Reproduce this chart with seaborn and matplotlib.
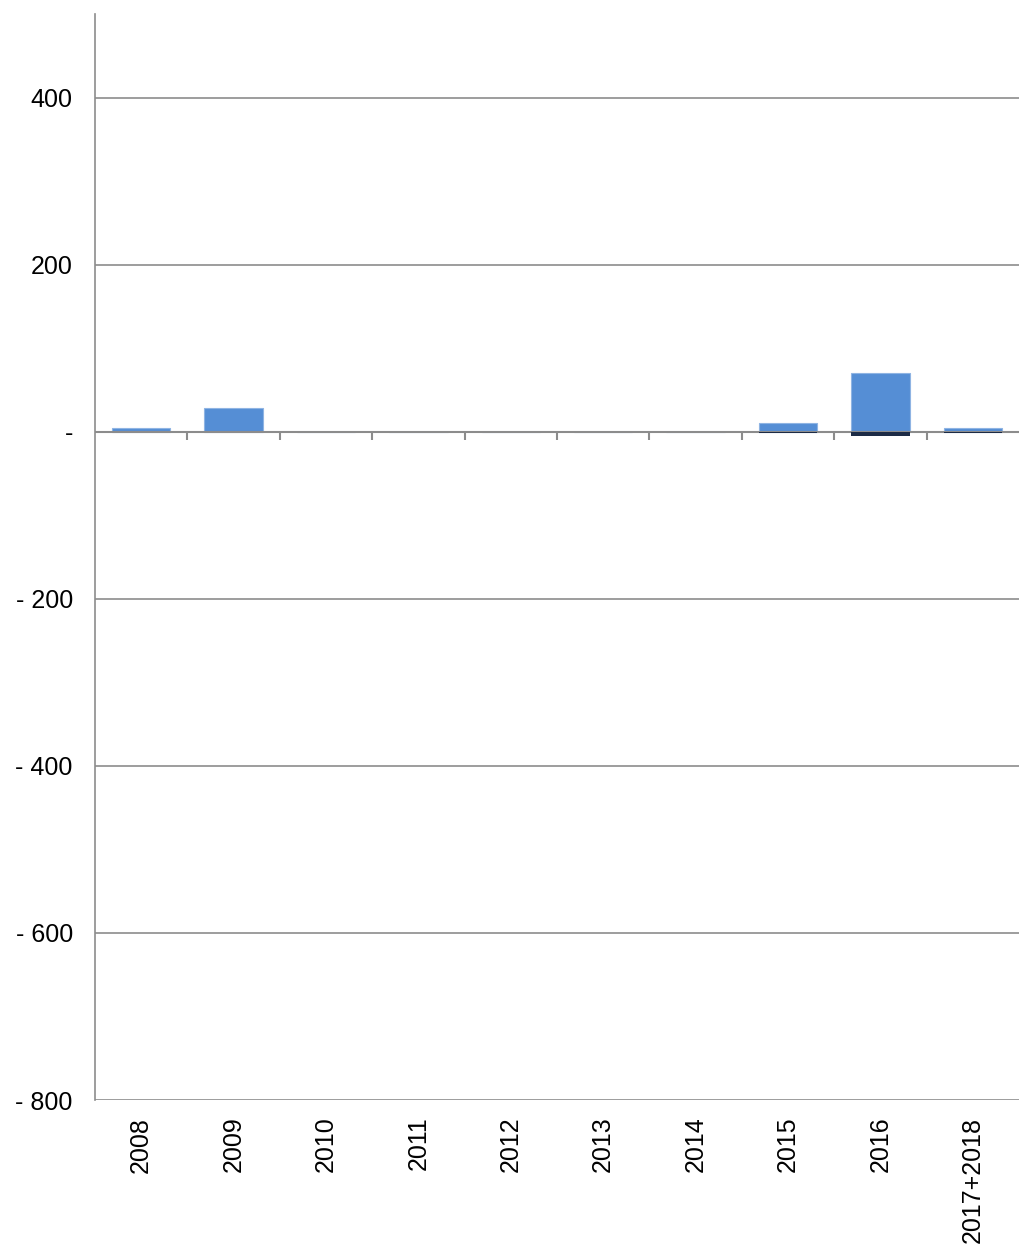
import matplotlib
matplotlib.use('Agg')
import matplotlib.pyplot as plt
import seaborn as sns
import numpy as np
import pandas as pd

years = ['2008', '2009', '2010', '2011', '2012', '2013', '2014', '2015', '2016', '2017+2018']
positive = [5, 28, 0, 0, 0, 0, 0, 10, 70, 5]
negative = [0, 0, 0, 0, 0, 0, 0, -1, -5, -1]
y_ticks = [-800, -600, -400, -200, 0, 200, 400]

GRID = '#8c8c8c'

sns.set_theme(style='white')
plt.rcParams['font.family'] = ['Liberation Sans', 'DejaVu Sans']
plt.rcParams['text.color'] = 'black'
plt.rcParams['xtick.color'] = 'black'
plt.rcParams['ytick.color'] = 'black'

df = pd.DataFrame({'year': years, 'pos': positive, 'neg': negative})

fig = plt.figure(figsize=(10.2, 12.52), dpi=100)
ax = fig.add_axes([95 / 1020, 1 - 1100 / 1252, 924 / 1020, 1086 / 1252])

sns.barplot(data=df, x='year', y='pos', color='#558ed5', width=0.63,
            edgecolor='#8fb4e3', linewidth=0.8, saturation=1, ax=ax, zorder=2)
sns.barplot(data=df, x='year', y='neg', color='#1c2b45', width=0.63,
            linewidth=0, saturation=1, ax=ax, zorder=4)

ymin, ymax = -800, 500
ax.set_ylim(ymin, ymax)
ax.set_xlim(-0.5, len(years) - 0.5)
ax.set_yticks(y_ticks)
ax.set_yticklabels(['-' if v == 0 else (f'- {-v}' if v < 0 else f'{v}') for v in y_ticks])
for v in y_ticks:
    if v != 0:
        ax.axhline(v, color=GRID, lw=1.2, zorder=0)

# category axis line at zero with ticks between categories
ax.axhline(0, color=GRID, lw=1.5, zorder=3)
ax.vlines(np.arange(0.5, len(years) - 1, 1.0), 0, -10, color=GRID, lw=1.5, zorder=3)

ax.set_xlabel('')
ax.set_ylabel('')
for s in ['top', 'right', 'bottom']:
    ax.spines[s].set_visible(False)
ax.spines['left'].set_color(GRID)
ax.spines['left'].set_linewidth(1.2)
ax.tick_params(axis='y', length=5, width=1.2, color=GRID, labelcolor='black',
               labelsize=18, pad=11)
ax.tick_params(axis='x', length=0, labelsize=18, labelcolor='black', pad=12,
               labelrotation=90)

plt.savefig('out.png', dpi=100)
plt.close()
